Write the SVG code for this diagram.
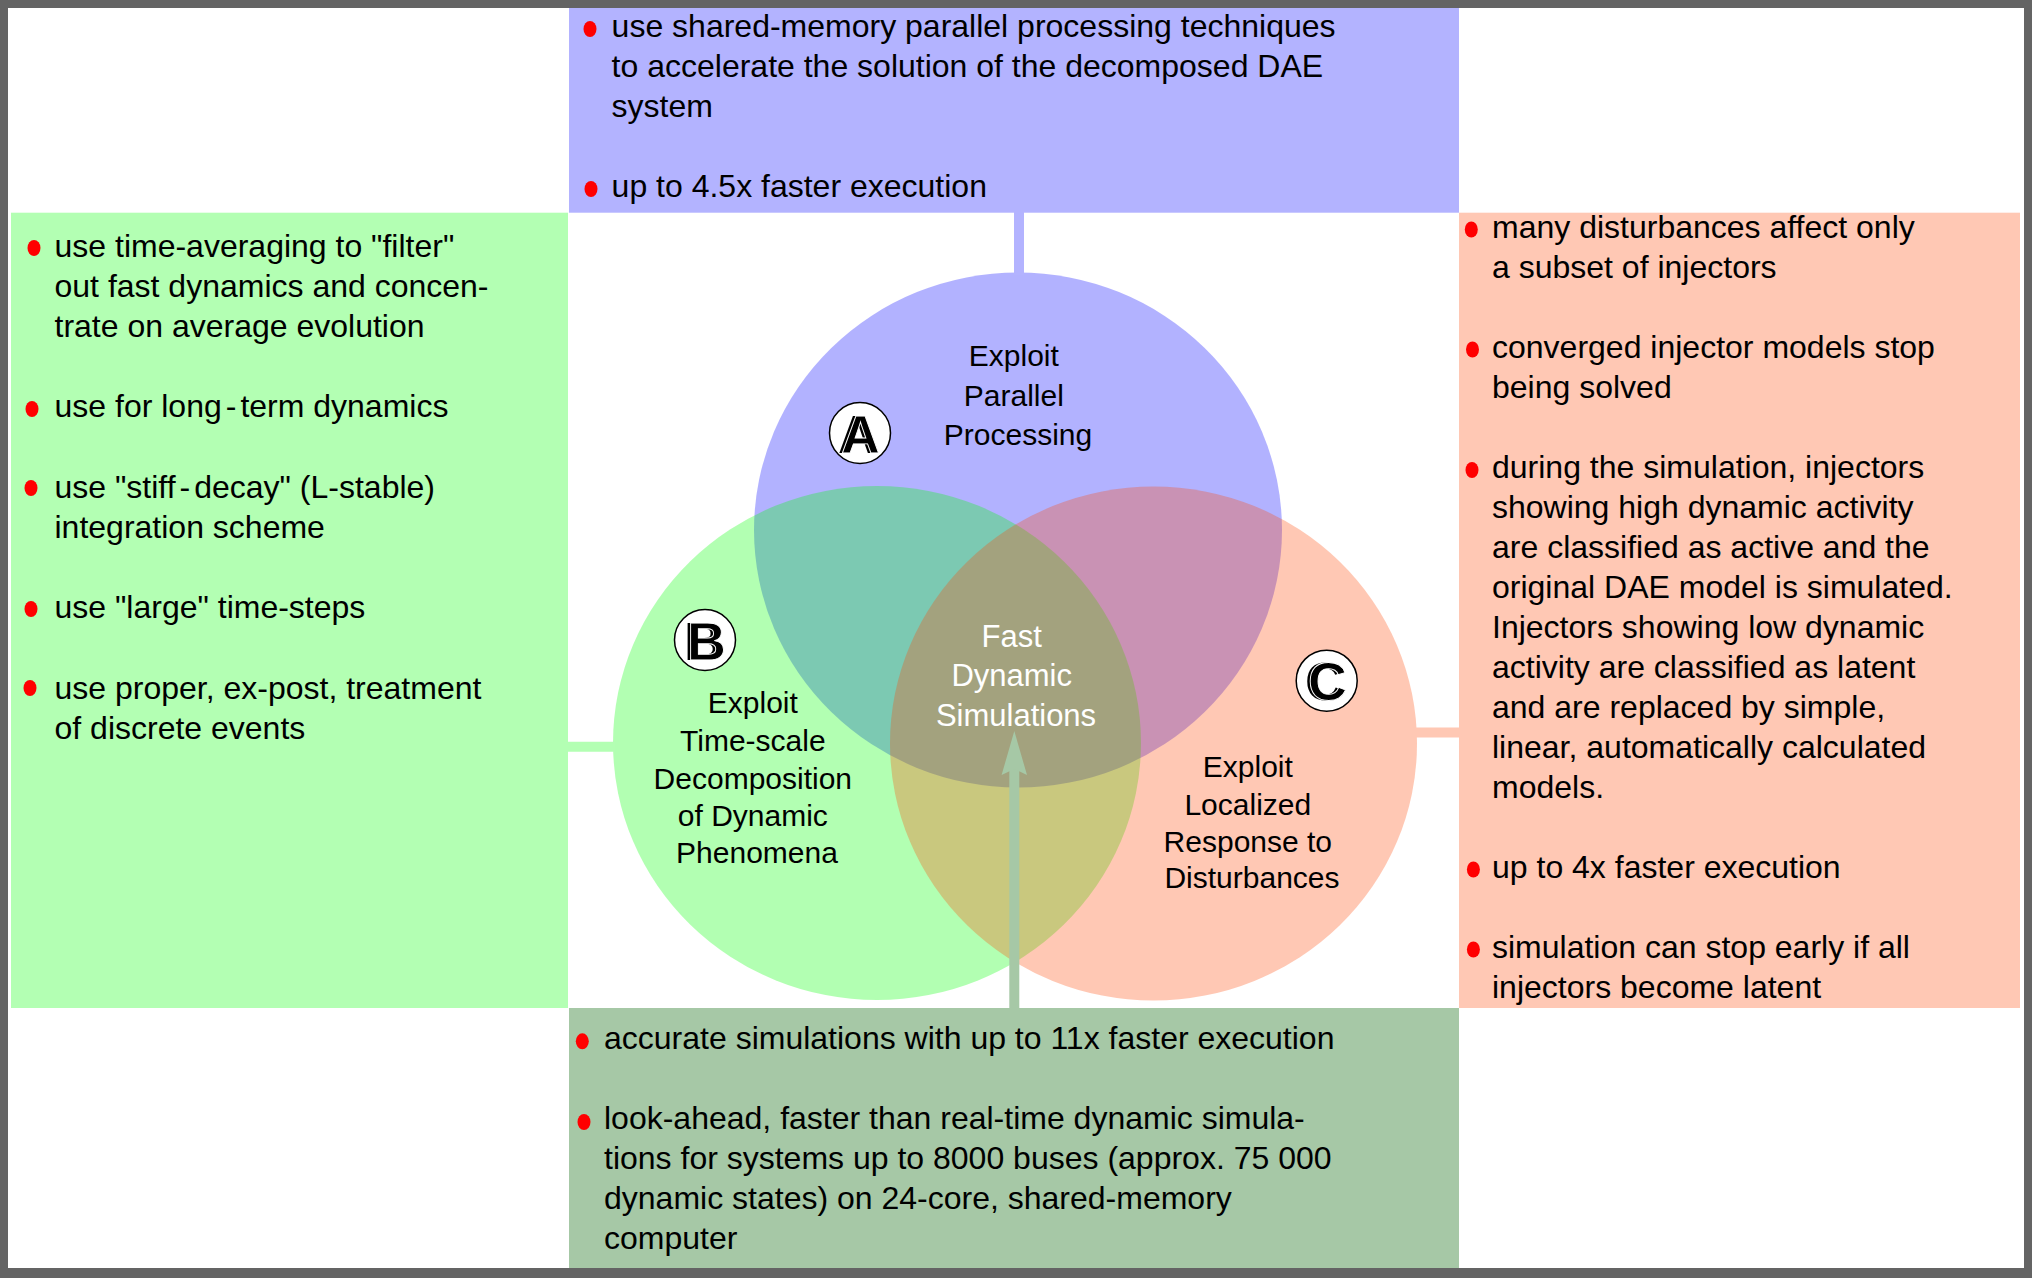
<svg xmlns="http://www.w3.org/2000/svg" width="2032" height="1278" viewBox="0 0 2032 1278">
  <defs>
    <style>
      .box-text { font-family: "Liberation Sans", Arial, sans-serif; font-size: 32px; fill: #000; }
      .lbl { font-family: "Liberation Sans", Arial, sans-serif; fill: #000; text-anchor: middle; }
      .lbl-a { font-size: 30px; }
      .lbl-bc { font-size: 30px; }
      .lbl-center { font-family: "Liberation Sans", Arial, sans-serif; font-size: 31px; fill: #fff; text-anchor: middle; }
      .badge { fill: #fff; stroke: #000; stroke-width: 1.5; }
      .badge-letter { font-family: "Liberation Sans", Arial, sans-serif; font-weight: bold; font-size: 54px; fill: #000; text-anchor: middle; }
      .badge-letter-top { stroke: #fff; stroke-width: 0.9; }
      .bullet { fill: #ff0000; }
      .conn { stroke-width: 10; fill: none; }
    </style>
    <marker id="arrowhead" viewBox="0 -13 44 26" markerUnits="userSpaceOnUse" markerWidth="44" markerHeight="26" refX="6" refY="0" orient="auto">
      <path d="M0,-12.7 L44,0 L0,12.7 L6,0 Z" fill="#a6c8a6"/>
    </marker>
  </defs>

  <!-- frame -->
  <rect x="0" y="0" width="2032" height="1278" fill="#646464"/>
  <rect x="8" y="8" width="2016" height="1260" fill="#ffffff"/>

  <!-- top box -->
  <g id="box-parallel">
    <rect x="569" y="8" width="890" height="204.7" fill="#b3b3ff"/>
    <ellipse class="bullet" cx="590" cy="29" rx="6.5" ry="8"/>
    <ellipse class="bullet" cx="591" cy="189" rx="6.5" ry="8"/>
    <text class="box-text">
      <tspan x="611.6" y="37.3">use shared-memory parallel processing techniques</tspan>
      <tspan x="611.6" y="77.3">to accelerate the solution of the decomposed DAE</tspan>
      <tspan x="611.6" y="117.3">system</tspan>
      <tspan x="611.6" y="197.3">up to 4.5x faster execution</tspan>
    </text>
  </g>

  <!-- left box -->
  <g id="box-timescale">
    <rect x="11" y="212.7" width="557" height="795.3" fill="#b3ffb3"/>
    <ellipse class="bullet" cx="34" cy="248" rx="6.5" ry="8"/>
    <ellipse class="bullet" cx="32" cy="409" rx="6.5" ry="8"/>
    <ellipse class="bullet" cx="31" cy="488" rx="6.5" ry="8"/>
    <ellipse class="bullet" cx="31" cy="609" rx="6.5" ry="8"/>
    <ellipse class="bullet" cx="30" cy="688" rx="6.5" ry="8"/>
    <text class="box-text">
      <tspan x="54.5" y="256.6">use time-averaging to "filter"</tspan>
      <tspan x="54.5" y="296.8">out fast dynamics and concen-</tspan>
      <tspan x="54.5" y="337">trate on average evolution</tspan>
      <tspan x="54.5" y="417.4">use for long<tspan dx="4">-</tspan><tspan dx="4">term dynamics</tspan></tspan>
      <tspan x="54.5" y="497.8">use "stiff<tspan dx="4">-</tspan><tspan dx="4">decay" (L-stable)</tspan></tspan>
      <tspan x="54.5" y="538">integration scheme</tspan>
      <tspan x="54.5" y="618.4">use "large" time-steps</tspan>
      <tspan x="54.5" y="698.8">use proper, ex-post, treatment</tspan>
      <tspan x="54.5" y="739">of discrete events</tspan>
    </text>
  </g>

  <!-- right box -->
  <g id="box-localized">
    <rect x="1459" y="212.7" width="561" height="795.3" fill="#ffc8b4"/>
    <ellipse class="bullet" cx="1471.3" cy="229.5" rx="6.5" ry="8"/>
    <ellipse class="bullet" cx="1472.5" cy="349.5" rx="6.5" ry="8"/>
    <ellipse class="bullet" cx="1472" cy="470" rx="6.5" ry="8"/>
    <ellipse class="bullet" cx="1473.4" cy="869.5" rx="6.5" ry="8"/>
    <ellipse class="bullet" cx="1473.4" cy="949.5" rx="6.5" ry="8"/>
    <text class="box-text">
      <tspan x="1492" y="238.3">many disturbances affect only</tspan>
      <tspan x="1492" y="278.3">a subset of injectors</tspan>
      <tspan x="1492" y="358.3">converged injector models stop</tspan>
      <tspan x="1492" y="398.3">being solved</tspan>
      <tspan x="1492" y="478.3">during the simulation, injectors</tspan>
      <tspan x="1492" y="518.3">showing high dynamic activity</tspan>
      <tspan x="1492" y="558.3">are classified as active and the</tspan>
      <tspan x="1492" y="598.3">original DAE model is simulated.</tspan>
      <tspan x="1492" y="638.3">Injectors showing low dynamic</tspan>
      <tspan x="1492" y="678.3">activity are classified as latent</tspan>
      <tspan x="1492" y="718.3">and are replaced by simple,</tspan>
      <tspan x="1492" y="758.3">linear, automatically calculated</tspan>
      <tspan x="1492" y="798.3">models.</tspan>
      <tspan x="1492" y="878.3">up to 4x faster execution</tspan>
      <tspan x="1492" y="958.3">simulation can stop early if all</tspan>
      <tspan x="1492" y="998.3">injectors become latent</tspan>
    </text>
  </g>

  <!-- bottom box -->
  <g id="box-results">
    <rect x="569" y="1008" width="890" height="260" fill="#a6c8a6"/>
    <ellipse class="bullet" cx="582.3" cy="1041.3" rx="6.5" ry="8"/>
    <ellipse class="bullet" cx="584" cy="1122" rx="6.5" ry="8"/>
    <text class="box-text">
      <tspan x="604" y="1049.3">accurate simulations with up to 11x faster execution</tspan>
      <tspan x="604" y="1129.3">look-ahead, faster than real-time dynamic simula-</tspan>
      <tspan x="604" y="1169.3">tions for systems up to 8000 buses (approx. 75 000</tspan>
      <tspan x="604" y="1209.3">dynamic states) on 24-core, shared-memory</tspan>
      <tspan x="604" y="1249.3">computer</tspan>
    </text>
  </g>

  <!-- Venn circles -->
  <g id="circle-a">
    <ellipse cx="1018" cy="530" rx="264" ry="257.5" fill="#0000ff" fill-opacity="0.3"/>
    <circle class="badge" cx="860" cy="433" r="30.5"/>
    <text class="badge-letter" x="857.5" y="452.5">A</text>
    <text class="badge-letter badge-letter-top" x="860.5" y="452.5">A</text>
    <text class="lbl lbl-a">
      <tspan x="1018" y="365.7">Exploit</tspan>
      <tspan x="1018" y="405.5">Parallel</tspan>
      <tspan x="1018" y="445.3">Processing</tspan>
    </text>
  </g>

  <g id="circle-b">
    <ellipse cx="877" cy="743" rx="264" ry="257" fill="#00ff00" fill-opacity="0.3"/>
    <circle class="badge" cx="705" cy="640" r="30.5"/>
    <text class="badge-letter" x="703.5" y="659.5">B</text>
    <text class="badge-letter badge-letter-top" x="706.5" y="659.5">B</text>
    <text class="lbl lbl-bc">
      <tspan x="757" y="713.3">Exploit</tspan>
      <tspan x="757" y="751">Time-scale</tspan>
      <tspan x="757" y="788.5">Decomposition</tspan>
      <tspan x="757" y="825.8">of Dynamic</tspan>
      <tspan x="757" y="862.7">Phenomena</tspan>
    </text>
  </g>

  <g id="circle-c">
    <ellipse cx="1153.5" cy="743.5" rx="263.5" ry="257" fill="#ff4805" fill-opacity="0.3"/>
    <circle class="badge" cx="1326.7" cy="680.7" r="30.5"/>
    <text class="badge-letter" x="1324.5" y="700">C</text>
    <text class="badge-letter badge-letter-top" x="1327.5" y="700">C</text>
    <text class="lbl lbl-bc">
      <tspan x="1252" y="776.7">Exploit</tspan>
      <tspan x="1252" y="814.5">Localized</tspan>
      <tspan x="1252" y="851.7">Response to</tspan>
      <tspan x="1252" y="888.3">Disturbances</tspan>
    </text>
  </g>

  <!-- connectors -->
  <g id="connectors">
    <line class="conn" x1="1019" y1="212" x2="1019" y2="275" stroke="#b3b3ff"/>
    <line class="conn" x1="568" y1="746.7" x2="615" y2="746.7" stroke="#b3ffb3"/>
    <line class="conn" x1="1415" y1="732.5" x2="1459" y2="732.5" stroke="#ffc8b4"/>
    <line class="conn" x1="1014.3" y1="1008" x2="1014.3" y2="769" stroke="#a6c8a6" marker-end="url(#arrowhead)"/>
  </g>

  <!-- center -->
  <g id="center-label">
    <text class="lbl-center">
      <tspan x="1016" y="646.5">Fast</tspan>
      <tspan x="1016" y="686.2">Dynamic</tspan>
      <tspan x="1016" y="725.8">Simulations</tspan>
    </text>
  </g>
</svg>
